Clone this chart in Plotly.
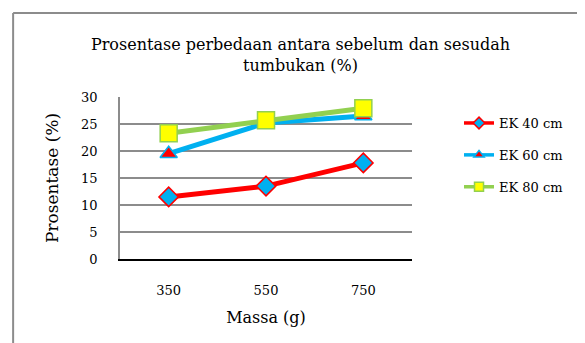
import plotly.graph_objects as go

categories = ["350", "550", "750"]
ek40 = [11.5, 13.5, 17.8]
ek60 = [19.5, 25.2, 26.5]
ek80 = [23.3, 25.7, 27.9]
y_ticks = [0, 5, 10, 15, 20, 25, 30]
series_names = ["EK 40 cm", "EK 60 cm", "EK 80 cm"]

FONT = "DejaVu Serif"
styles = [
    dict(line="#FF0000", symbol="diamond", fill="#00B0F0", edge="#FF0000", size=15),
    dict(line="#00B0F0", symbol="triangle-up", fill="#FF0000", edge="#00B0F0", size=15),
    dict(line="#92D050", symbol="square", fill="#FFFF00", edge="#92D050", size=17),
]

fig = go.Figure()
for name, vals, st, grp in zip(series_names, [ek40, ek60, ek80], styles, ["a", "b", "c"]):
    fig.add_trace(go.Scatter(x=categories, y=vals, name=name, mode="lines+markers",
        legendgroup=grp, showlegend=False,
        line=dict(color=st["line"], width=5),
        marker=dict(symbol=st["symbol"], size=st["size"], color=st["fill"],
                    line=dict(color=st["edge"], width=1.5))))
    # legend entry with smaller symbol, as in the reference
    fig.add_trace(go.Scatter(x=[None], y=[None], name=name, mode="lines+markers",
        legendgroup=grp, showlegend=True,
        line=dict(color=st["line"], width=3.5),
        marker=dict(symbol=st["symbol"], size=9, color=st["fill"],
                    line=dict(color=st["edge"], width=1.5))))

fig.update_layout(
    width=585, height=343,
    margin=dict(l=112, r=181, t=89, b=92),
    paper_bgcolor="white", plot_bgcolor="white",
    font=dict(family=FONT, color="#000000", size=13),
    title=dict(text="Prosentase perbedaan antara sebelum dan sesudah<br>tumbukan (%)",
               x=0.5, xanchor="center", y=0.877, yanchor="middle",
               font=dict(family=FONT, size=16)),
    xaxis=dict(type="category", range=[-0.5, 2.5], showgrid=False,
               showline=True, linecolor="#000000", linewidth=2, ticks="",
               tickfont=dict(family=FONT, size=13), ticklabelstandoff=18,
               title=dict(text="Massa (g)", font=dict(family=FONT, size=16), standoff=15),
               fixedrange=True),
    yaxis=dict(range=[0, 30], tickvals=y_ticks, showgrid=True, gridcolor="#8C8C8C", gridwidth=1.5,
               showline=True, linecolor="#8C8C8C", linewidth=1.5, ticks="", zeroline=False,
               tickfont=dict(family=FONT, size=13), ticklabelstandoff=18,
               title=dict(text="Prosentase (%)", font=dict(family=FONT, size=17), standoff=18),
               fixedrange=True),
    legend=dict(x=1.161, y=0.932, xanchor="left", yanchor="top",
                font=dict(family=FONT, size=13),
                tracegroupgap=12, itemsizing="trace"),
    shapes=[
        dict(type="line", xref="paper", yref="paper", x0=-0.366, x1=-0.366, y0=1.519, y1=-1,
             line=dict(color="#8C8C8C", width=2)),
        dict(type="line", xref="paper", yref="paper", x0=-0.366, x1=2, y0=1.519, y1=1.519,
             line=dict(color="#8C8C8C", width=2)),
    ],
)
fig.write_html("out.html")
